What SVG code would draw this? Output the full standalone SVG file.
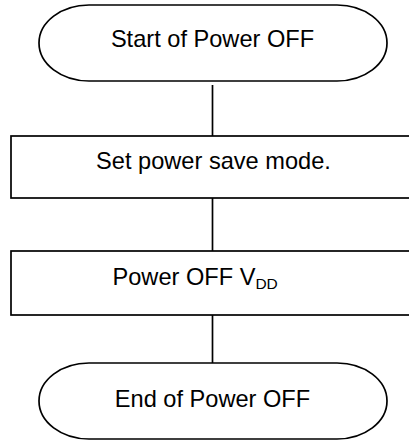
<svg xmlns="http://www.w3.org/2000/svg" width="409" height="441" viewBox="0 0 409 441">
<style>
.shape{fill:#fff;stroke:#000;stroke-width:1.7}
.conn{stroke:#000;stroke-width:1.7;fill:none}
.t{font-family:"Liberation Sans",Arial,sans-serif;font-size:23.6px;fill:#000;text-anchor:middle}
</style>
<rect width="409" height="441" fill="#fff"/>
<g id="connectors">
<line class="conn" x1="212.5" y1="85" x2="212.5" y2="136"/>
<line class="conn" x1="212.5" y1="198" x2="212.5" y2="251"/>
<line class="conn" x1="212.5" y1="315" x2="212.5" y2="363"/>
</g>
<g id="start">
<path class="shape" d="M89,5 H337 A50,38 0 0 1 337,81 H89 A50,38 0 0 1 89,5 Z"/>
<text class="t" x="212.5" y="47">Start of Power OFF</text>
</g>
<g id="setmode">
<rect class="shape" x="11" y="136" width="404" height="62"/>
<text class="t" x="213.5" y="169">Set power save mode.</text>
</g>
<g id="poweroff">
<rect class="shape" x="11" y="251" width="404" height="64"/>
<text class="t" x="112.5" y="285" style="text-anchor:start">Power OFF V<tspan font-size="15.5" dy="3.5">DD</tspan></text>
</g>
<g id="end">
<path class="shape" d="M89,363 H337 A50,38 0 0 1 337,439 H89 A50,38 0 0 1 89,363 Z"/>
<text class="t" x="212.5" y="406.5">End of Power OFF</text>
</g>
</svg>
